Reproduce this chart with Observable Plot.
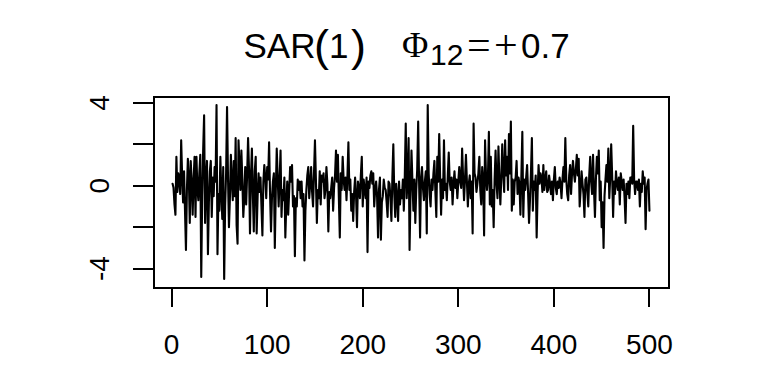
<!DOCTYPE html>
<html><head><meta charset="utf-8">
<script src="https://cdn.jsdelivr.net/npm/d3@7"></script>
<script src="https://cdn.jsdelivr.net/npm/@observablehq/plot@0.6"></script>
<style>body{margin:0;background:#fff}</style>
</head><body><div id="chart"></div>
<script>
const series = [
 0.1, -0.1, -0.9, -1.4, 1.4, -0.3, 0.6, 0.3, -0.4, 2.2,
 0.5, -0.8, 0.7, -1.2, -3.1, -0.2, 1.3, 0.4, -1.8, 1.2,
 0.2, -1.4, 0.3, 1.4, -1.5, 1.4, -0.2, -0.7, 0.6, 1.5,
 -4.4, -0.5, 1.7, 3.4, -1.8, 0.3, 1.2, -3.3, -0.8, 0.7,
 1.2, -1.5, 0.4, -0.5, 0.9, 0.2, 3.9, -3.3, -0.4, -1.2,
 1.4, -0.3, -1.6, 0.9, -4.5, -1.0, 0.6, 3.8, 0.4, -2.0,
 -0.6, 1.5, 0.2, -0.7, 1.2, -0.5, 2.3, -1.9, -2.8, 2.2,
 1.0, -0.2, 1.7, 0.3, -1.5, -0.6, 0.9, -0.9, 0.5, 2.3,
 0.8, -2.3, 0.4, 1.8, -0.4, -2.2, 0.7, 1.4, -2.3, -0.5,
 0.6, -0.3, 0.4, -1.0, -2.4, 0.2, 1.0, 0.4, -0.6, 0.9,
 0.3, 2.1, -0.4, -2.2, -0.6, 0.2, 0.6, -3.0, -0.3, 1.8,
 0.4, -1.0, 0.3, 1.7, -1.5, -0.2, -0.7, 0.4, -2.5, -0.9,
 0.2, -1.4, -0.3, 0.9, 0.2, 1.0, -1.0, -0.5, -3.4, -0.6,
 -1.0, 0.3, -0.2, 0.2, -0.6, 0.2, -1.0, -0.4, -3.6, -1.2,
 -0.2, 0.5, 0.9, -0.6, 0.1, 0.9, -0.3, -1.0, 0.6, 2.2,
 0.3, -1.8, -0.2, -0.6, 0.7, -0.9, 0.5, 0.2, 0.6, -0.6,
 -0.2, 0.9, 0.1, -2.2, -0.3, -0.6, -0.1, 0.4, -1.2, -0.1,
 0.5, 1.7, 0.2, 1.5, -0.6, -2.5, 0.6, -0.2, 1.4, 0.3,
 -0.2, 0.4, -0.7, 0.5, 2.1, -0.2, 0.3, -1.2, -0.4, -1.7,
 -0.3, 0.4, -0.5, -2.0, 0.2, -0.1, -0.6, 0.5, 1.4, -1.0,
 0.3, -0.2, -0.6, 0.4, -3.2, 0.2, -0.1, 0.5, 0.7, 0.1,
 0.6, -1.0, -0.2, 0.2, -0.5, -2.5, -0.2, 0.4, -2.6, -0.8,
 -0.5, 0.3, -0.1, -0.2, -0.8, -1.5, 0.2, 0.1, -0.6, -1.7,
 0.4, 2.0, -0.4, -1.5, 0.1, -0.5, -1.7, 0.2, -0.9, -0.2,
 -0.6, 0.3, -1.2, 0.5, 3.0, -0.6, 0.4, 2.3, -3.1, -0.4,
 1.7, 0.2, -1.2, 0.3, -1.8, -0.2, 0.8, 3.1, 0.1, -2.5,
 0.4, 0.9, -0.1, -0.7, 0.2, 0.7, -2.3, 3.9, 0.6, -0.4,
 -1.0, 0.3, -0.2, 0.6, 1.2, -0.3, -1.5, 1.4, 0.2, 2.5,
 0.4, -1.4, 0.3, -0.6, 2.2, -0.2, 0.1, -0.7, 0.5, 1.6,
 0.2, -0.2, 0.4, -0.9, 0.1, 0.7, -0.1, 0.3, -0.6, 0.2,
 0.9, 0.2, -0.1, 1.8, 0.4, -0.7, 0.3, 1.5, 0.2, -1.0,
 0.1, 0.5, -0.6, 0.2, -2.3, 3.0, 0.6, 0.4, -0.3, 0.1,
 0.6, 1.4, -0.2, -0.9, 0.9, 0.3, -2.4, 2.2, 0.5, -0.2,
 0.4, 2.6, -0.9, 1.4, -1.0, -0.2, -2.0, 0.3, 1.7, 0.1,
 -0.6, 1.9, 0.3, -0.9, 0.4, 2.0, 0.6, -0.3, 2.2, 0.5,
 1.4, -0.2, 2.5, 0.6, 3.1, -1.2, 0.3, -0.9, 0.2, 0.4,
 1.2, -0.4, 0.4, 0.1, -1.4, 0.5, 2.6, -1.5, 0.3, -0.2,
 0.4, 1.0, -0.3, -1.8, -0.7, 0.6, 2.3, -1.2, 0.2, -0.2,
 0.5, -2.5, -0.3, 1.0, 0.1, 0.6, 0.4, -0.3, 1.0, -0.2,
 0.3, 0.7, -0.3, -0.2, 0.5, 0.1, -0.4, 0.2, -0.7, 0.3,
 0.9, -0.1, -0.4, 0.2, -0.1, 0.4, 0.1, -0.6, 0.3, 0.9,
 0.2, 2.3, 0.3, -0.4, -0.7, 0.5, 1.0, -0.4, 0.6, 1.2,
 0.6, 0.2, 0.8, 1.5, 0.5, 1.3, -1.0, -0.2, 0.7, 0.1,
 -0.4, -1.5, 0.3, 0.4, -0.3, -1.0, 0.5, 1.4, 0.2, -0.4,
 1.5, -0.2, -1.5, 0.3, 1.4, 0.6, 1.7, -0.7, 0.2, -2.0,
 -0.8, -3.0, -0.5, 0.3, 1.0, 0.2, 1.8, -0.6, 0.4, 2.0,
 0.5, -1.5, 0.2, -0.4, 0.7, 0.1, -0.2, 0.4, -0.9, 0.6,
 0.2, -0.2, 0.3, -0.6, -1.8, 0.1, -0.4, 0.2, -0.6, 0.4,
 0.4, 0.1, 2.9, 0.3, -0.4, 0.2, 0.2, -0.2, 0.3, -1.0,
 0.1, -0.3, 0.7, 0.1, 0.4, -2.1, -0.2, 0.1, 0.3, -1.2
];
const xTicks = [0, 100, 200, 300, 400, 500];
const yTicks = [-4, -2, 0, 2, 4];
const yLabels = [4, 0, -4];
const titleParts = ["SAR", "(", "1", ")", "\u03A6", "12", "=", "+", "0.7"];

const sans = "Liberation Sans, Arial, Helvetica, sans-serif";
const serif = "Liberation Serif, Times New Roman, serif";

const chart = Plot.plot({
  width: 768,
  height: 384,
  marginLeft: 153,
  marginRight: 100,
  marginTop: 96,
  marginBottom: 97,
  style: {fontFamily: sans, fontSize: "28px", background: "white", color: "black", overflow: "visible"},
  x: {domain: [-18.96, 519.96], ticks: xTicks, tickSize: 20, tickPadding: 27, tickFormat: d => String(d), label: null},
  y: {domain: [-4.91, 4.31], ticks: yTicks, tickSize: 20, tickFormat: () => "", label: null},
  marks: [
    Plot.frame({stroke: "black", strokeWidth: 2, shapeRendering: "crispEdges"}),
    Plot.line(series, {x: (d, i) => i + 1, y: d => d, stroke: "black", strokeWidth: 2.1}),
    Plot.text(yLabels, {y: d => d, text: d => String(d), frameAnchor: "left", rotate: -90, dx: -45, lineAnchor: "bottom", textAnchor: "middle", fontSize: 28, fill: "black"})
  ]
});
document.getElementById("chart").appendChild(chart);

const svg = d3.select(chart);
svg.selectAll("g[aria-label^='x-axis'] line, g[aria-label^='x-axis'] path, g[aria-label^='y-axis'] line, g[aria-label^='y-axis'] path")
  .attr("stroke-width", 2).attr("stroke", "black").attr("shape-rendering", "crispEdges");

// Title (plotmath-like: SAR(1)   Phi_12 = +0.7)
const layout = [
  {x: 243.5, y: 58.3, size: 35, font: sans},
  {x: 314, y: 60.5, size: 45, font: sans},
  {x: 329, y: 58.3, size: 35, font: sans},
  {x: 351, y: 60.5, size: 45, font: sans},
  {x: 402, y: 56.7, size: 36, font: serif},
  {x: 430, y: 65, size: 30, font: sans},
  {x: 467, y: 58.5, size: 42, font: serif},
  {x: 494, y: 58.5, size: 42, font: serif},
  {x: 521, y: 58.3, size: 35, font: sans}
];
const title = svg.append("text").attr("fill", "black").attr("text-anchor", "start");
titleParts.forEach((s, i) => {
  const p = layout[i];
  title.append("tspan")
    .attr("x", p.x).attr("y", p.y)
    .attr("font-size", p.size).attr("font-family", p.font)
    .attr("text-anchor", "start")
    .text(s);
});
</script>
</body></html>
